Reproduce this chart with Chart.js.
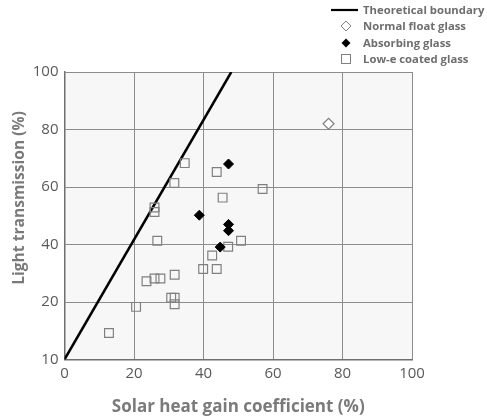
<!DOCTYPE html>
<html>
<head>
<meta charset="utf-8">
<script src="https://cdn.jsdelivr.net/npm/chart.js@4/dist/chart.umd.min.js"></script>
<style>
	html, body { margin: 0; padding: 0; background: #fff; }
	#wrap { position: relative; width: 487px; height: 417px; }
	#legend { position: absolute; left: 331px; top: 2px; font: bold 11.3px "Open Sans", sans-serif; color: #6e6e6e; }
	#legend .item { height: 16.3px; line-height: 16.3px; white-space: nowrap; position: relative; padding-left: 32px; }
	#legend svg { position: absolute; left: 0; top: 0; }
</style>
</head>
<body>
<div id="wrap">
	<canvas id="chart" width="487" height="417"></canvas>
	<div id="legend"></div>
</div>
<script>
(function() {
	'use strict';

	// theoretical boundary line
	var boundaryX = [0, 48];
	var boundaryY = [0, 100];

	// normal float glass
	var floatX = [76];
	var floatY = [82];

	// absorbing glass
	var absorbX = [47.2, 38.8, 47.2, 47.2, 44.8];
	var absorbY = [68.0, 50.2, 47.0, 44.8, 39.1];

	// low-e coated glass
	var lowEX = [34.6, 31.6, 43.8, 45.5, 25.9, 25.9, 26.7, 47.1, 50.8, 42.5, 39.9, 43.8, 31.7, 23.6, 25.9, 27.6, 30.7, 31.7, 31.7, 20.6, 12.8, 57.0];
	var lowEY = [68.3, 61.4, 65.2, 56.3, 52.9, 51.3, 41.3, 39.2, 41.3, 36.2, 31.5, 31.5, 29.5, 27.2, 28.2, 28.2, 21.5, 21.5, 19.2, 18.3, 9.2, 59.3];

	var xTicks = [0, 20, 40, 60, 80, 100];
	var yTickValues = [0, 20, 40, 60, 80, 100];
	var yTickLabels = ['10', '20', '40', '60', '80', '100'];

	var seriesNames = ['Theoretical boundary', 'Normal float glass', 'Absorbing glass', 'Low-e coated glass'];
	var xTitle = 'Solar heat gain coefficient (%)';
	var yTitle = 'Light transmission (%)';

	function pts(xs, ys) {
		return xs.map(function(x, i) { return { x: x, y: ys[i] }; });
	}

	var titleFont = { family: '"Open Sans", sans-serif', size: 17, weight: 'bold' };
	var tickFont = { family: '"Open Sans", sans-serif', size: 15 };

	// plot background + y title (the original sits a bit above the axis middle)
	var extras = {
		id: 'extras',
		beforeDraw: function(chart) {
			var a = chart.chartArea, c = chart.ctx;
			c.save();
			c.fillStyle = '#f7f7f7';
			c.fillRect(a.left, a.top, a.right - a.left, a.bottom - a.top);
			c.restore();
		},
		afterDraw: function(chart) {
			var c = chart.ctx;
			c.save();
			c.translate(20, 198);
			c.rotate(-Math.PI / 2);
			c.font = 'bold 15.6px "Open Sans", sans-serif';
			c.fillStyle = '#7a7a7a';
			c.textAlign = 'center';
			c.textBaseline = 'middle';
			c.fillText(yTitle, 0, 0);
			c.restore();
		}
	};

	var ctx = document.getElementById('chart').getContext('2d');
	new Chart(ctx, {
		type: 'scatter',
		data: {
			datasets: [{
				label: seriesNames[0],
				data: pts(boundaryX, boundaryY),
				showLine: true,
				borderColor: '#000',
				borderWidth: 2.5,
				pointRadius: 0,
				order: 4
			}, {
				label: seriesNames[1],
				data: pts(floatX, floatY),
				pointStyle: 'rectRot',
				pointRadius: 5.5,
				backgroundColor: '#fff',
				borderColor: '#808080',
				borderWidth: 1.2
			}, {
				label: seriesNames[2],
				data: pts(absorbX, absorbY),
				pointStyle: 'rectRot',
				pointRadius: 5,
				backgroundColor: '#000',
				borderColor: '#000',
				borderWidth: 1
			}, {
				label: seriesNames[3],
				data: pts(lowEX, lowEY),
				pointStyle: 'rect',
				pointRadius: 6.2,
				backgroundColor: 'rgba(255,255,255,0)',
				borderColor: '#808080',
				borderWidth: 1.2
			}]
		},
		options: {
			responsive: false,
			animation: false,
			layout: { padding: { left: 0, right: 75, top: 72, bottom: 0 } },
			plugins: {
				legend: { display: false },
				tooltip: { enabled: false }
			},
			scales: {
				x: {
					type: 'linear',
					min: 0,
					max: 100,
					afterBuildTicks: function(axis) {
						axis.ticks = xTicks.map(function(v) { return { value: v }; });
					},
					afterFit: function(axis) { axis.height = 57.5; },
					grid: { color: '#8c8c8c', lineWidth: 1, drawTicks: false },
					border: { color: '#6f6f6f', width: 1.5 },
					ticks: { color: '#595959', font: tickFont, padding: 5, maxRotation: 0 },
					title: {
						display: true,
						text: xTitle,
						color: '#7a7a7a',
						font: titleFont,
						padding: { top: 1, bottom: 0 }
					}
				},
				y: {
					type: 'linear',
					min: 0,
					max: 100,
					afterBuildTicks: function(axis) {
						axis.ticks = yTickValues.map(function(v) { return { value: v }; });
					},
					afterFit: function(axis) { axis.width = 64.5; },
					grid: { color: '#8c8c8c', lineWidth: 1, drawTicks: false },
					border: { color: '#6f6f6f', width: 1.5 },
					ticks: {
						color: '#595959',
						font: tickFont,
						padding: 6,
						callback: function(value) {
							var i = yTickValues.indexOf(value);
							return i >= 0 ? yTickLabels[i] : '';
						}
					}
				}
			}
		},
		plugins: [extras]
	});

	// legend
	var symbols = [
		'<svg width="30" height="16"><line x1="0" y1="8" x2="27" y2="8" stroke="#000" stroke-width="2.2"/></svg>',
		'<svg width="30" height="16"><polygon points="15,3 20,8 15,13 10,8" fill="#fff" stroke="#808080" stroke-width="1"/></svg>',
		'<svg width="30" height="16"><polygon points="15,3.5 19.5,8 15,12.5 10.5,8" fill="#000"/></svg>',
		'<svg width="30" height="16"><rect x="10.5" y="3.5" width="9" height="9" fill="none" stroke="#808080" stroke-width="1"/></svg>'
	];
	var legend = document.getElementById('legend');
	seriesNames.forEach(function(name, i) {
		var d = document.createElement('div');
		d.className = 'item';
		d.innerHTML = symbols[i];
		d.appendChild(document.createTextNode(name));
		legend.appendChild(d);
	});
})();
</script>
</body>
</html>
